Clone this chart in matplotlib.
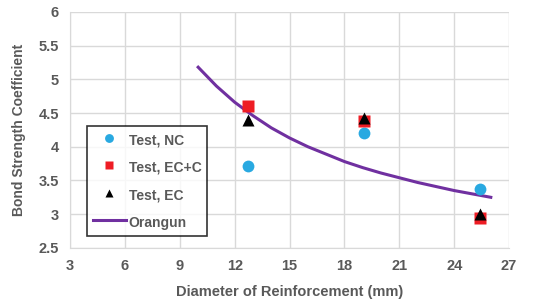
import matplotlib
matplotlib.use("Agg")
from matplotlib import pyplot as plt

# test data (bar diameters in mm)
diam = [12.7, 19.05, 25.4]
test_nc = [3.72, 4.20, 3.38]
test_ecc = [4.60, 4.38, 2.95]
test_ec = [4.40, 4.42, 3.00]

# Orangun prediction
orangun_x = [10, 11, 12, 13, 14, 15, 16, 17, 18, 19, 20, 21, 22, 23, 24, 25, 26]
orangun_y = [5.18, 4.90, 4.66, 4.46, 4.28, 4.13, 4.00, 3.89, 3.78, 3.69,
             3.61, 3.54, 3.47, 3.41, 3.35, 3.30, 3.25]

xticks = [3, 6, 9, 12, 15, 18, 21, 24, 27]
yticks = [2.5, 3, 3.5, 4, 4.5, 5, 5.5, 6]

TEXT = "#595959"
plt.rcParams["font.family"] = ["Liberation Sans", "DejaVu Sans"]
plt.rcParams["font.weight"] = "bold"

fig = plt.figure(figsize=(5.48, 3.06), dpi=100)
ax = fig.add_axes([0.128, 0.19, 0.801, 0.771])

ax.plot(orangun_x, orangun_y, color="#7030a0", lw=2.2, label="Orangun", zorder=3)
ax.plot(diam, test_nc, "o", color="#29a9e1", ms=8.5, mec="none", label="Test, NC", zorder=4)
ax.plot(diam, test_ecc, "s", color="#ee1c24", ms=8.5, mec="none", label="Test, EC+C", zorder=4)
ax.plot(diam, test_ec, "^", color="black", ms=8.5, mec="none", label="Test, EC", zorder=5)

ax.set_xlim(3, 27)
ax.set_ylim(2.5, 6)
ax.set_xticks(xticks)
ax.set_yticks(yticks)
ax.set_yticklabels([f"{v:g}" for v in yticks])
ax.grid(True, color="#d9d9d9", lw=1)
ax.set_axisbelow(True)
for s in ["top", "right"]:
    ax.spines[s].set_visible(False)
for s in ["left", "bottom"]:
    ax.spines[s].set_color("#d9d9d9")
ax.tick_params(length=0, labelsize=10.5, colors=TEXT, pad=8)

ax.set_xlabel("Diameter of Reinforcement (mm)", fontsize=10.5, color=TEXT, fontweight="bold", labelpad=9)
ax.set_ylabel("Bond Strength Coefficient", fontsize=10, color=TEXT, fontweight="bold", labelpad=9)

h, l = ax.get_legend_handles_labels()
order = [1, 2, 3, 0]
leg = fig.legend([h[i] for i in order], [l[i] for i in order],
                 loc="upper left", bbox_to_anchor=(0.159, 0.588),
                 frameon=True, fancybox=False, edgecolor="black",
                 fontsize=10, labelspacing=0.82, handlelength=2.4,
                 handleheight=1.4, borderpad=0.4, borderaxespad=0,
                 handletextpad=0.2, markerscale=0.75)
leg.get_frame().set_linewidth(1.2)
for t in leg.get_texts():
    t.set_color(TEXT)

fig.savefig("out.png", dpi=100)
